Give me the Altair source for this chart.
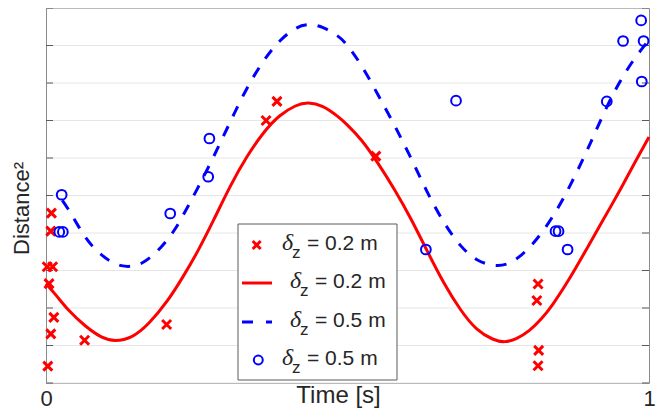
import altair as alt
import pandas as pd

# ---- data ----
red_t = [0.0, 0.016, 0.037, 0.065, 0.093, 0.114, 0.142, 0.170, 0.202, 0.228, 0.251, 0.279,
         0.305, 0.333, 0.361, 0.387, 0.415, 0.434, 0.459, 0.485, 0.497, 0.524, 0.550, 0.578,
         0.606, 0.632, 0.660, 0.688, 0.714, 0.742, 0.761, 0.779, 0.802, 0.823, 0.839, 0.867,
         0.894, 0.922, 0.941, 0.954, 0.971, 1.0]
red_v = [2.65, 2.36, 1.93, 1.51, 1.19, 1.11, 1.19, 1.56, 2.18, 2.85, 3.48, 4.37,
         5.25, 6.05, 6.70, 7.15, 7.42, 7.49, 7.41, 7.10, 6.93, 6.49, 5.88, 5.17,
         4.37, 3.52, 2.64, 1.92, 1.40, 1.14, 1.08, 1.16, 1.38, 1.73, 2.05, 2.74,
         3.50, 4.30, 4.83, 5.20, 5.72, 6.56]

blue_t = [0.027, 0.036, 0.044, 0.054, 0.065, 0.076, 0.089, 0.106, 0.125, 0.143, 0.160, 0.176,
          0.191, 0.204, 0.215, 0.225, 0.251, 0.279, 0.305, 0.333, 0.361, 0.387, 0.415, 0.436,
          0.459, 0.485, 0.497, 0.524, 0.550, 0.578, 0.606, 0.632, 0.660, 0.688, 0.714, 0.745,
          0.770, 0.796, 0.823, 0.851, 0.872, 0.894, 0.910, 0.930, 0.949, 0.971, 0.992, 1.0]
blue_v = [4.87, 4.66, 4.45, 4.17, 3.89, 3.66, 3.45, 3.24, 3.11, 3.10, 3.19, 3.38,
          3.62, 3.87, 4.12, 4.40, 5.17, 6.06, 6.95, 7.88, 8.62, 9.14, 9.50, 9.58,
          9.51, 9.25, 9.08, 8.47, 7.70, 6.88, 5.98, 5.08, 4.25, 3.62, 3.25, 3.10,
          3.17, 3.50, 4.00, 4.70, 5.35, 6.08, 6.66, 7.37, 7.97, 8.55, 8.99, 9.15]

cross_t = [0.009, 0.008, 0.002, 0.011, 0.005, 0.013, 0.008, 0.064, 0.003, 0.200,
           0.365, 0.383, 0.547, 0.816, 0.814, 0.817, 0.816]
cross_v = [4.53, 4.05, 3.10, 3.10, 2.65, 1.75, 1.31, 1.14, 0.45, 1.56,
           7.00, 7.51, 6.05, 2.64, 2.20, 0.87, 0.46]

circ_t = [0.026, 0.022, 0.028, 0.206, 0.269, 0.271, 0.630, 0.680, 0.845, 0.850,
          0.865, 0.930, 0.957, 0.987, 0.991, 0.988]
circ_v = [5.02, 4.03, 4.03, 4.52, 5.50, 6.52, 3.56, 7.53, 4.05, 4.05,
          3.56, 7.51, 9.12, 9.67, 9.12, 8.04]

grid_levels = list(range(0, 11))
x_ticks = [0, 1]
legend_values = ["0.2", "0.2", "0.5", "0.5"]

W, H = 603, 375
FONT = "Liberation Sans"
TXT = "#262626"

red_df = pd.DataFrame({"t": red_t, "v": red_v})
blue_df = pd.DataFrame({"t": blue_t, "v": blue_v})
cross_df = pd.DataFrame({"t": cross_t, "v": cross_v})
circ_df = pd.DataFrame({"t": circ_t, "v": circ_v})
grid_df = pd.DataFrame({"v": grid_levels})
one = pd.DataFrame({"a": [0]})

x_enc = alt.X("t:Q", scale=alt.Scale(domain=[0, 1], nice=False, zero=False),
              axis=alt.Axis(values=x_ticks, format="d", title="Time [s]", grid=False,
                            ticks=False, domain=False, labelFontSize=22, labelFont=FONT,
                            labelColor=TXT, labelPadding=22, labelBaseline="alphabetic",
                            labelFlush=False, labelBound=False,
                            titleFont=FONT, titleFontSize=24, titleFontWeight="normal",
                            titleColor=TXT, titleX=292, titleY=19,
                            titleBaseline="alphabetic"))
y_enc = alt.Y("v:Q", scale=alt.Scale(domain=[0, 10], nice=False, zero=False),
              axis=alt.Axis(labels=False, ticks=False, grid=False, domain=False,
                            title="Distance²", titleFont=FONT, titleFontSize=22,
                            titleFontWeight="normal", titleColor=TXT, titleX=-18,
                            titleY=200, titleBaseline="alphabetic", titleAngle=-90))

grid = alt.Chart(grid_df).mark_rule(color="#e6e6e6", strokeWidth=1).encode(
    x=alt.value(0), x2=alt.value(W), y=y_enc)
ticks_l = alt.Chart(grid_df).mark_rule(color="#5a5a5a", strokeWidth=1).encode(
    x=alt.value(0), x2=alt.value(7), y=y_enc)
ticks_r = alt.Chart(grid_df).mark_rule(color="#5a5a5a", strokeWidth=1).encode(
    x=alt.value(W - 7), x2=alt.value(W), y=y_enc)

red_line = alt.Chart(red_df).mark_line(color="#ff0000", strokeWidth=3,
                                       interpolate="basis").encode(x=x_enc, y=y_enc)
blue_line = alt.Chart(blue_df).mark_line(color="#0000ff", strokeWidth=3, strokeDash=[11, 11],
                                         interpolate="basis").encode(x=x_enc, y=y_enc)
XPATH = "M-1,-1L1,1M1,-1L-1,1"
crosses = alt.Chart(cross_df).mark_point(shape=XPATH, filled=False, color="#ff0000",
                                         strokeWidth=3, size=81, opacity=1).encode(x=x_enc, y=y_enc)
circles = alt.Chart(circ_df).mark_point(shape="circle", filled=False, color="#0000ff",
                                        strokeWidth=2, size=95, opacity=1).encode(x=x_enc, y=y_enc)

# ---- legend ----
LX0, LX1, LY0, LY1 = 192, 351, 216, 372
rows_y = [237, 275, 314, 352]
text_x = [236, 244, 244, 236]
leg = [alt.Chart(one).mark_rect(fill="white", stroke="#5a5a5a", strokeWidth=1).encode(
    x=alt.value(LX0), x2=alt.value(LX1), y=alt.value(LY0), y2=alt.value(LY1))]
leg.append(alt.Chart(one).mark_point(shape=XPATH, filled=False, color="#ff0000",
                                     strokeWidth=3, size=64, opacity=1).encode(
    x=alt.value(210.7), y=alt.value(rows_y[0])))
leg.append(alt.Chart(one).mark_rule(color="#ff0000", strokeWidth=3).encode(
    x=alt.value(196), x2=alt.value(226), y=alt.value(rows_y[1])))
leg.append(alt.Chart(one).mark_rule(color="#0000ff", strokeWidth=3, strokeDash=[11, 13]).encode(
    x=alt.value(196), x2=alt.value(226), y=alt.value(rows_y[2])))
leg.append(alt.Chart(one).mark_point(shape="circle", filled=False, color="#0000ff",
                                     strokeWidth=2, size=80, opacity=1).encode(
    x=alt.value(212.3), y=alt.value(rows_y[3])))
for i, val in enumerate(legend_values):
    ry, tx = rows_y[i], text_x[i]
    leg.append(alt.Chart(one).mark_text(text="δ", font="Liberation Serif", fontStyle="italic",
                                        fontSize=24, align="left", baseline="alphabetic",
                                        color=TXT).encode(x=alt.value(tx), y=alt.value(ry + 5)))
    leg.append(alt.Chart(one).mark_text(text="z", font=FONT, fontSize=17, align="left",
                                        baseline="alphabetic", color=TXT).encode(
        x=alt.value(tx + 10), y=alt.value(ry + 13)))
    leg.append(alt.Chart(one).mark_text(text=f"= {val} m", font=FONT, fontSize=21, align="left",
                                        baseline="alphabetic", color=TXT).encode(
        x=alt.value(tx + 25), y=alt.value(ry + 5)))

chart = alt.layer(grid, ticks_l, ticks_r, red_line, blue_line, crosses, circles, *leg).properties(
    width=W, height=H, autosize="none",
    padding={"left": 38, "top": 0, "right": 7, "bottom": 26},
).configure_view(stroke="#8c8c8c", strokeWidth=1)

chart.save("out.html", embed_options={"renderer": "svg", "actions": False})
